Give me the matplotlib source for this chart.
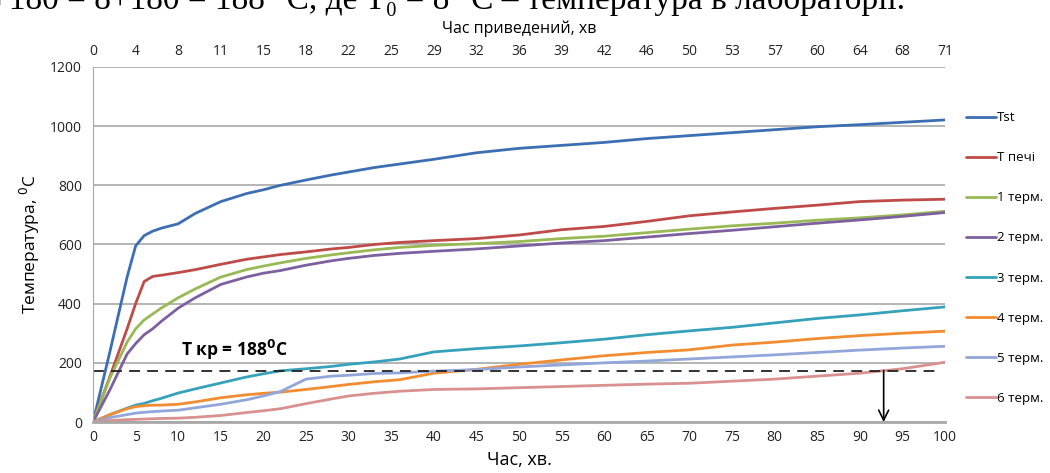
import numpy as np
import matplotlib
matplotlib.use("Agg")
import matplotlib.pyplot as plt

plt.rcParams['font.family'] = ['Open Sans', 'DejaVu Sans']

# час, хв
t = [0, 2, 4, 5, 6, 7, 8, 10, 12, 15, 18, 20, 22, 25, 28, 30, 33, 36, 40,
     45, 50, 55, 60, 65, 70, 75, 80, 85, 90, 95, 100]

tst = [0, 240, 490, 595, 630, 645, 655, 670, 705, 745, 772, 785, 800, 818, 835, 845,
       860, 872, 888, 910, 925, 935, 945, 958, 968, 978, 988, 998, 1005, 1013, 1021]
t_pechi = [0, 155, 315, 400, 475, 492, 496, 505, 515, 533, 550, 558, 566, 575, 585, 590,
           600, 607, 613, 620, 632, 650, 661, 678, 697, 710, 722, 733, 745, 750, 753]
term1 = [0, 150, 270, 315, 345, 365, 385, 420, 450, 490, 515, 527, 538, 553, 565, 572,
         582, 590, 597, 603, 610, 620, 628, 640, 652, 663, 672, 682, 690, 700, 712]
term2 = [0, 110, 230, 265, 295, 315, 340, 385, 420, 465, 490, 503, 512, 530, 545, 553,
         563, 570, 577, 585, 595, 605, 613, 625, 637, 648, 660, 672, 683, 695, 708]
term3 = [0, 25, 47, 57, 63, 72, 80, 98, 112, 132, 152, 163, 173, 180, 188, 195,
         203, 213, 237, 248, 257, 268, 280, 295, 308, 320, 335, 350, 362, 376, 389]
term4 = [0, 25, 45, 52, 55, 57, 57, 60, 68, 82, 92, 97, 101, 110, 120, 127,
         136, 143, 165, 178, 195, 210, 224, 235, 244, 260, 270, 282, 292, 300, 307]
term5 = [0, 15, 25, 30, 33, 35, 37, 40, 48, 60, 75, 88, 103, 145, 155, 158,
         164, 166, 172, 177, 186, 193, 200, 206, 213, 220, 227, 235, 243, 250, 256]
term6 = [0, 5, 8, 9, 10, 11, 12, 13, 16, 22, 32, 38, 45, 62, 78, 88,
         97, 104, 110, 112, 116, 120, 124, 128, 131, 138, 145, 155, 165, 180, 202]

series = [tst, t_pechi, term1, term2, term3, term4, term5, term6]
names = ['Tst', 'T печі', '1 терм.', '2 терм.', '3 терм.', '4 терм.', '5 терм.', '6 терм.']
colors = ['#3C6EB4', '#BE4B48', '#98B954', '#7D60A0', '#35A2BA', '#F28C30', '#93A6DA', '#D8918F']

x_ticks = list(range(0, 101, 5))
top_labels = ['0', '4', '8', '11', '15', '18', '22', '25', '29', '32', '36', '39',
              '42', '46', '50', '53', '57', '60', '64', '68', '71']

t_kr_line = 174   # рівень пунктиру
t_cross = 92.8    # час досягнення T кр

fig = plt.figure(figsize=(10.5, 4.73), dpi=100)
ax = fig.add_axes([0.0886, 0.1078, 0.8114, 0.7506])

for vals, name, c in zip(series, names, colors):
    ax.plot(t, vals, color=c, lw=2.0, label=name, solid_capstyle='round')

ax.plot([0, 99], [t_kr_line, t_kr_line], color='#222222', lw=1.3, dashes=(6, 4))
ax.annotate('', xy=(t_cross, 0), xytext=(t_cross, t_kr_line),
            arrowprops=dict(arrowstyle='->', color='black', lw=1.2,
                            mutation_scale=18, shrinkA=0, shrinkB=0))
ax.text(10.3, 243, 'T кр = 188$^{\\mathbf{0}}$C', fontsize=12.5, fontweight='bold',
        ha='left', va='center')

ax.set_xlim(0, 100)
ax.set_ylim(0, 1200)
ax.set_xticks(x_ticks)
ax.set_yticks(range(0, 1201, 200))
ax.grid(axis='y', color='#A8A8A8', lw=1.2)
ax.set_axisbelow(True)
for s in ['top', 'right']:
    ax.spines[s].set_visible(False)
ax.spines['left'].set_color('#A8A8A8')
ax.spines['bottom'].set_color('#A8A8A8')
ax.spines['bottom'].set_linewidth(2)
ax.tick_params(length=0, labelsize=10, colors='#222222', pad=6)
ax.tick_params(axis='y', pad=8)

ax.set_xlabel('Час, хв.', fontsize=13, labelpad=4)
ax.set_ylabel('Температура, $^0$C', fontsize=12.5, labelpad=6)

top = ax.secondary_xaxis('top')
top.set_ticks(x_ticks, labels=top_labels)
top.tick_params(length=0, labelsize=10, colors='#222222', pad=6)
top.spines['top'].set_visible(False)
top.set_xlabel('Час приведений, хв', fontsize=11.5, labelpad=8)

ax.legend(loc='upper left', bbox_to_anchor=(1.018, 0.89), frameon=False,
          fontsize=9.5, handlelength=2.3, handletextpad=0.1, labelspacing=2.05,
          borderaxespad=0)

fig.text(0.862, 0.982, 'T\u2080+180 = 8+180 = 188 \u00b0C, де T\u2080 = 8 \u00b0C \u2013 температура в лабораторії.',
         fontsize=24, family='Liberation Serif', ha='right', va='baseline')

fig.savefig('out.png', dpi=100)
